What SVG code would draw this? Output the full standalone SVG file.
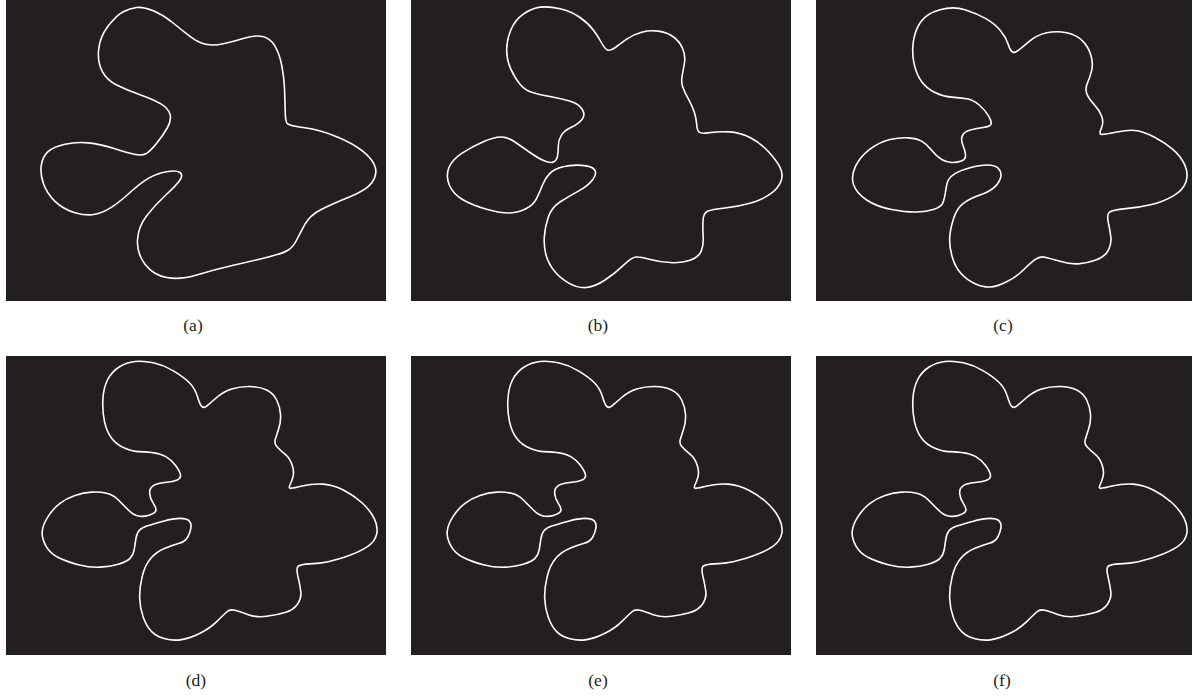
<svg xmlns="http://www.w3.org/2000/svg" xmlns:xlink="http://www.w3.org/1999/xlink" width="1193" height="697" viewBox="0 0 1193 697">
<style>
.bg{fill:#231f20}
.c{fill:none;stroke:#ffffff;stroke-width:1.6;vector-effect:non-scaling-stroke;stroke-linejoin:round}
.lb{font-family:"Liberation Serif","Times New Roman",serif;font-size:17.5px;fill:#231f20;text-anchor:middle}
</style>
<defs>
<path id="shapeD" class="c" d="M405,49.5 Q430,47 460,53.5 Q490,60 520,77.5 Q550,95 567.5,112.5 Q585,130 592.5,155 Q600,180 606,185 Q612,190 621,182.5 Q630,175 650,157.5 Q670,140 695,132 Q720,124 750,124.5 Q780,125 800,135 Q820,145 830,165 Q840,185 841.5,207.5 Q843,230 836.5,250 Q830,270 826,282.5 Q822,295 831,305 Q840,315 855,327.5 Q870,340 876.5,360 Q883,380 879,395 Q875,410 870,420 Q865,430 872.5,430 Q880,430 910,422.5 Q940,415 970,417.5 Q1000,420 1030,435 Q1060,450 1085,472.5 Q1110,495 1122.5,520 Q1135,545 1130,567.5 Q1125,590 1102.5,605 Q1080,620 1045,632.5 Q1010,645 985,650 Q960,655 930,656.5 Q900,658 894,664 Q888,670 894,695 Q900,720 902.5,740 Q905,760 892.5,777.5 Q880,795 855,802.5 Q830,810 800,814 Q770,818 745,809 Q720,800 705,796 Q690,792 680,801 Q670,810 650,830 Q630,850 600,865 Q570,880 545,884 Q520,888 495,881.5 Q470,875 455,860 Q440,845 430,817.5 Q420,790 419,760 Q418,730 426.5,695 Q435,660 452.5,640 Q470,620 495,610 Q520,600 537.5,595 Q555,590 562.5,577.5 Q570,565 572.5,550 Q575,535 567.5,527.5 Q560,520 540,520 Q520,520 490,528.5 Q460,537 442.5,542.5 Q425,548 417.5,556.5 Q410,565 407.5,582.5 Q405,600 402.5,615 Q400,630 390,640 Q380,650 355,657.5 Q330,665 300,666.5 Q270,668 235,659 Q200,650 175,637.5 Q150,625 137.5,602.5 Q125,580 126.5,560 Q128,540 144,515 Q160,490 180,475 Q200,460 225,451.5 Q250,443 275,441.5 Q300,440 320,445 Q340,450 355,465 Q370,480 385,495 Q400,510 415,513 Q430,516 447.5,510.5 Q465,505 467.5,497.5 Q470,490 460,475 Q450,460 449,445 Q448,430 459,422.5 Q470,415 495,412.5 Q520,410 531.5,405 Q543,400 541.5,390 Q540,380 527.5,362.5 Q515,345 497.5,335 Q480,325 455,322.5 Q430,320 415,320 Q400,320 375,310 Q350,300 335,280 Q320,260 313.5,230 Q307,200 308.5,165 Q310,130 322.5,105 Q335,80 357.5,66 Q380,52 405,49.5 Z"/>
</defs>

<g id="panel-a">
<rect class="bg" x="6" y="0" width="380" height="301"/>
<path class="c" transform="scale(0.33333)" d="M410,22.5 Q430,20 460,32.5 Q490,45 517.5,67.5 Q545,90 570,109 Q595,128 617.5,133 Q640,138 670,131.5 Q700,125 732.5,115 Q765,105 787.5,109.5 Q810,114 824,137 Q838,160 845,195 Q852,230 853.5,265 Q855,300 855.5,332.5 Q856,365 862,371 Q868,377 914,383.5 Q960,390 1010,410 Q1060,430 1090,455 Q1120,480 1126,502.5 Q1132,525 1116,547.5 Q1100,570 1050,590 Q1000,610 965,627.5 Q930,645 915,672.5 Q900,700 890,720 Q880,740 865,750 Q850,760 805,771 Q760,782 700,796 Q640,810 590,825 Q540,840 500,832.5 Q460,825 435,792.5 Q410,760 412.5,720 Q415,680 440,647.5 Q465,615 497.5,585 Q530,555 540,540 Q550,525 540,517.5 Q530,510 500,515 Q470,520 445,535 Q420,550 390,577.5 Q360,605 335,621.5 Q310,638 285,643 Q260,648 225,638 Q190,628 165,604 Q140,580 130,550 Q120,520 124,495 Q128,470 144,455 Q160,440 195,432.5 Q230,425 265,428.5 Q300,432 340,445 Q380,458 402.5,463 Q425,468 437.5,461.5 Q450,455 470,430 Q490,405 502.5,382.5 Q515,360 510,342.5 Q505,325 482.5,311.5 Q460,298 420,284 Q380,270 350,255 Q320,240 306,212.5 Q292,185 296,147.5 Q300,110 325,77.5 Q350,45 370,35 Q390,25 410,22.5 Z"/>
<text class="lb" x="193" y="331">(a)</text>
</g>

<g id="panel-b">
<rect class="bg" x="411" y="0" width="380" height="301"/>
<path class="c" transform="translate(405,0) scale(0.33333)" d="M405,21.5 Q430,18 465,26.5 Q500,35 525,52.5 Q550,70 565,90 Q580,110 590,129 Q600,148 608.5,150.5 Q617,153 631,142.5 Q645,132 665,117.5 Q685,103 710,96.5 Q735,90 760,93.5 Q785,97 803.5,109.5 Q822,122 832,143.5 Q842,165 838.5,187.5 Q835,210 831.5,227.5 Q828,245 833,260 Q838,275 850,296.5 Q862,318 868,336.5 Q874,355 875,372.5 Q876,390 882,396 Q888,402 914,398 Q940,394 972.5,395.5 Q1005,397 1035,412.5 Q1065,428 1088.5,453 Q1112,478 1124,500 Q1136,522 1128,543.5 Q1120,565 1095,582.5 Q1070,600 1035,610 Q1000,620 960,624 Q920,628 907.5,634 Q895,640 894,662.5 Q893,685 894.5,711.5 Q896,738 888,755 Q880,772 855,781 Q830,790 795,787.5 Q760,785 732.5,777.5 Q705,770 692.5,771 Q680,772 655,796 Q630,820 600,840 Q570,860 545,862.5 Q520,865 492.5,850 Q465,835 447.5,812.5 Q430,790 423,765 Q416,740 418,710 Q420,680 430,651 Q440,622 465,606 Q490,590 520,573.5 Q550,557 563.5,538.5 Q577,520 568.5,509 Q560,498 530,496 Q500,494 474,500.5 Q448,507 434,521 Q420,535 412.5,555 Q405,575 395,595 Q385,615 362.5,626.5 Q340,638 315,639 Q290,640 247.5,628.5 Q205,617 175,600 Q145,583 133.5,556.5 Q122,530 131,505 Q140,480 170,460 Q200,440 235,425 Q270,410 290,411 Q310,412 330,426 Q350,440 375,457.5 Q400,475 417.5,482.5 Q435,490 445,486 Q455,482 457.5,468.5 Q460,455 460,437.5 Q460,420 469,406 Q478,392 499,382 Q520,372 531,358.5 Q542,345 532,328.5 Q522,312 496,304 Q470,296 435,289.5 Q400,283 380,276.5 Q360,270 345,252.5 Q330,235 317.5,207.5 Q305,180 305,150 Q305,120 317.5,90 Q330,60 355,42.5 Q380,25 405,21.5 Z"/>
<text class="lb" x="598" y="331">(b)</text>
</g>

<g id="panel-c">
<rect class="bg" x="816" y="0" width="376" height="301"/>
<path class="c" transform="translate(810,0) scale(0.33333)" d="M390,29 Q430,18 465,29 Q500,40 527.5,56 Q555,72 571.5,92 Q588,112 594,131 Q600,150 606,155 Q612,160 622,153 Q632,146 656,125.5 Q680,105 710,98.5 Q740,92 770,98.5 Q800,105 817.5,122.5 Q835,140 842.5,165 Q850,190 845,211 Q840,232 832.5,248.5 Q825,265 830,280 Q835,295 851.5,312.5 Q868,330 875,349 Q882,368 874,385 Q866,402 874,403 Q882,404 921,396 Q960,388 982.5,392.5 Q1005,397 1035,412.5 Q1065,428 1088.5,448 Q1112,468 1124,494 Q1136,520 1128,545 Q1120,570 1090,587.5 Q1060,605 1025,613.5 Q990,622 947.5,626 Q905,630 897.5,637.5 Q890,645 895,667.5 Q900,690 902.5,711 Q905,732 895,751 Q885,770 857.5,780 Q830,790 805,791.5 Q780,793 750,784 Q720,775 705,771.5 Q690,768 675,779 Q660,790 640,810 Q620,830 590,845 Q560,860 540,861 Q520,862 495,851 Q470,840 452.5,820 Q435,800 426.5,770 Q418,740 419,715 Q420,690 430,657.5 Q440,625 460,610 Q480,595 510,585 Q540,575 555,560 Q570,545 572.5,530 Q575,515 565,505 Q555,495 532.5,495 Q510,495 480,503.5 Q450,512 435,521 Q420,530 415,540 Q410,550 407.5,570 Q405,590 400,605 Q395,620 372.5,627.5 Q350,635 320,636 Q290,637 245,628.5 Q200,620 170,600 Q140,580 131,555 Q122,530 136,500 Q150,470 180,447.5 Q210,425 240,418.5 Q270,412 295,413.5 Q320,415 335,423.5 Q350,432 365,451 Q380,470 395,478.5 Q410,487 425,487.5 Q440,488 454,483 Q468,478 466.5,464 Q465,450 458.5,435 Q452,420 457,407.5 Q462,395 481,390 Q500,385 520,382.5 Q540,380 543,372.5 Q546,365 535.5,347.5 Q525,330 507.5,315 Q490,300 470,296.5 Q450,293 425,291.5 Q400,290 375,277.5 Q350,265 335,245 Q320,225 312.5,192.5 Q305,160 310,125 Q315,90 332.5,65 Q350,40 390,29 Z"/>
<text class="lb" x="1003" y="331">(c)</text>
</g>

<g id="panel-d">
<rect class="bg" x="6" y="356" width="380" height="299"/>
<use xlink:href="#shapeD" href="#shapeD" transform="translate(0,345) scale(0.33333)"/>
<text class="lb" x="196" y="686">(d)</text>
</g>

<g id="panel-e">
<rect class="bg" x="411" y="356" width="380" height="299"/>
<use xlink:href="#shapeD" href="#shapeD" transform="translate(405,345) scale(0.33333)"/>
<text class="lb" x="598" y="686">(e)</text>
</g>

<g id="panel-f">
<rect class="bg" x="816" y="356" width="376" height="299"/>
<use xlink:href="#shapeD" href="#shapeD" transform="translate(810,345) scale(0.33333)"/>
<text class="lb" x="1002" y="686">(f)</text>
</g>
</svg>
